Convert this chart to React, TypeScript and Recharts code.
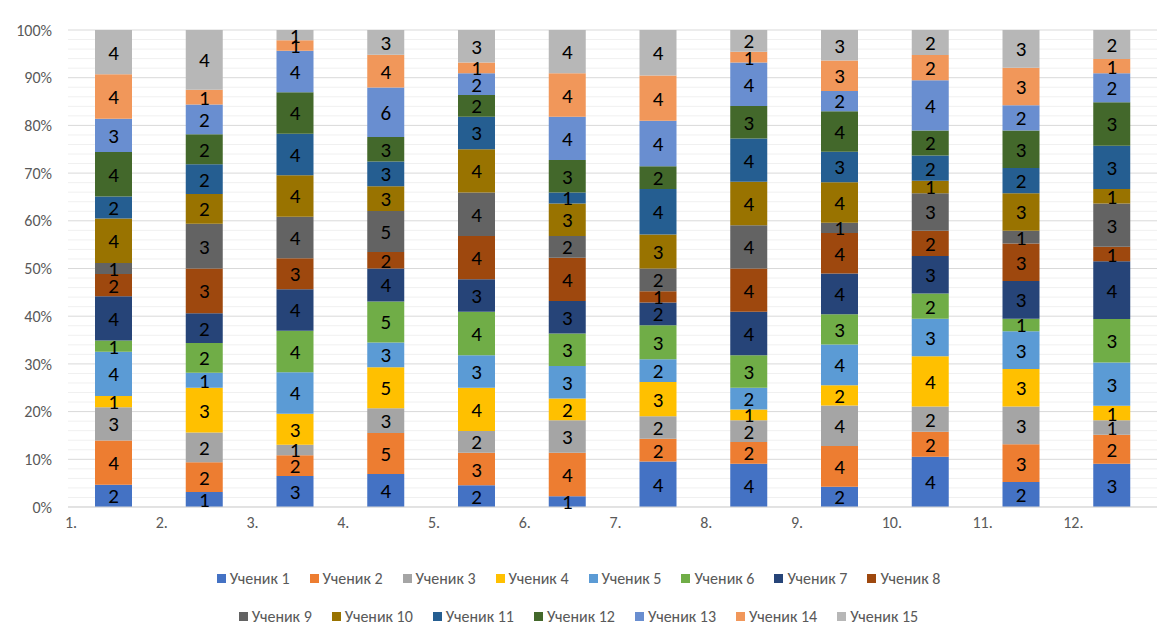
import React from 'react';
import { BarChart, Bar, XAxis, YAxis, CartesianGrid, LabelList } from 'recharts';

// Task numbers along the category axis
const categories = ['1.', '2.', '3.', '4.', '5.', '6.', '7.', '8.', '9.', '10.', '11.', '12.'];

// Scores of each student per task
const student1 = [2, 1, 3, 4, 2, 1, 4, 4, 2, 4, 2, 3];
const student2 = [4, 2, 2, 5, 3, 4, 2, 2, 4, 2, 3, 2];
const student3 = [3, 2, 1, 3, 2, 3, 2, 2, 4, 2, 3, 1];
const student4 = [1, 3, 3, 5, 4, 2, 3, 1, 2, 4, 3, 1];
const student5 = [4, 1, 4, 3, 3, 3, 2, 2, 4, 3, 3, 3];
const student6 = [1, 2, 4, 5, 4, 3, 3, 3, 3, 2, 1, 3];
const student7 = [4, 2, 4, 4, 3, 3, 2, 4, 4, 3, 3, 4];
const student8 = [2, 3, 3, 2, 4, 4, 1, 4, 4, 2, 3, 1];
const student9 = [1, 3, 4, 5, 4, 2, 2, 4, 1, 3, 1, 3];
const student10 = [4, 2, 4, 3, 4, 3, 3, 4, 4, 1, 3, 1];
const student11 = [2, 2, 4, 3, 3, 1, 4, 4, 3, 2, 2, 3];
const student12 = [4, 2, 4, 3, 2, 3, 2, 3, 4, 2, 3, 3];
const student13 = [3, 2, 4, 6, 2, 4, 4, 4, 2, 4, 2, 2];
const student14 = [4, 1, 1, 4, 1, 4, 4, 1, 3, 2, 3, 1];
const student15 = [4, 4, 1, 3, 3, 4, 4, 2, 3, 2, 3, 2];

const seriesNames = [
  'Ученик 1', 'Ученик 2', 'Ученик 3', 'Ученик 4', 'Ученик 5',
  'Ученик 6', 'Ученик 7', 'Ученик 8', 'Ученик 9', 'Ученик 10',
  'Ученик 11', 'Ученик 12', 'Ученик 13', 'Ученик 14', 'Ученик 15',
];
const seriesValues = [
  student1, student2, student3, student4, student5,
  student6, student7, student8, student9, student10,
  student11, student12, student13, student14, student15,
];
const seriesColors = [
  '#4472C4', '#ED7D31', '#A5A5A5', '#FFC000', '#5B9BD5',
  '#70AD47', '#264478', '#9E480E', '#636363', '#997300',
  '#255E91', '#43682B', '#698ED0', '#F1975A', '#B7B7B7',
];

const data = categories.map((name, i) => {
  const row: Record<string, string | number> = { name };
  seriesNames.forEach((s, k) => {
    row[`s${k}`] = seriesValues[k][i];
  });
  return row;
});

const WIDTH = 1157;
const CHART_H = 540;
const PLOT_LEFT = 68;
const BAND = (WIDTH - PLOT_LEFT) / categories.length;
const FONT = 'Calibri, Carlito, Lato, "Liberation Sans", Arial, sans-serif';

// minor grid fractions (every 2%, skipping the 10% majors)
const minorValues: number[] = [];
for (let i = 1; i < 50; i++) {
  if (i % 5 !== 0) minorValues.push(i / 50);
}

const CategoryTick = (props: any) => {
  const { x, y, payload } = props;
  return (
    <text
      x={x - BAND / 2 - 3}
      y={y + 13}
      textAnchor="start"
      fontSize={16}
      fontFamily={FONT}
      fill="#595959"
    >
      {payload.value}
    </text>
  );
};

const LegendBlock = () => {
  const rows = [seriesNames.slice(0, 8), seriesNames.slice(8)];
  let idx = 0;
  return (
    <div style={{ position: 'absolute', left: 0, top: 559, width: WIDTH, fontFamily: FONT, fontSize: 16, color: '#595959' }}>
      {rows.map((row, r) => (
        <div key={r} style={{ display: 'flex', justifyContent: 'center', height: 38, alignItems: 'center' }}>
          {row.map((n) => {
            const c = seriesColors[idx++];
            return (
              <div key={n} style={{ display: 'flex', alignItems: 'center', margin: '0 10px' }}>
                <span style={{ width: 9, height: 9, background: c, display: 'inline-block', marginRight: 4 }} />
                <span>{n}</span>
              </div>
            );
          })}
        </div>
      ))}
    </div>
  );
};

export default function App() {
  return (
    <div style={{ position: 'absolute', left: 0, top: 0, width: WIDTH, height: 624, background: '#fff', overflow: 'hidden' }}>
      <BarChart
        width={WIDTH}
        height={CHART_H}
        data={data}
        stackOffset="expand"
        barCategoryGap={27}
        margin={{ top: 30, right: 0, bottom: 0, left: 0 }}
      >
        <CartesianGrid
          vertical={false}
          stroke="#f0f0f0"
          horizontalCoordinatesGenerator={(p: any) => {
            const off = p?.offset;
            if (!off || typeof off.top !== 'number') return [];
            return minorValues.map((v) => off.top + off.height * (1 - v));
          }}
        />
        <CartesianGrid vertical={false} stroke="#d9d9d9" />
        <XAxis
          dataKey="name"
          height={33}
          tickLine={false}
          axisLine={{ stroke: '#d9d9d9' }}
          tick={<CategoryTick />}
          interval={0}
        />
        <YAxis
          width={PLOT_LEFT}
          domain={[0, 1]}
          ticks={[0, 0.1, 0.2, 0.3, 0.4, 0.5, 0.6, 0.7, 0.8, 0.9, 1]}
          tickFormatter={(v: number) => `${Math.round(v * 100)}%`}
          tickLine={false}
          axisLine={false}
          tickSize={0}
          tickMargin={16}
          tick={{ fontSize: 16, fontFamily: FONT, fill: '#595959' }}
        />
        {seriesNames.map((n, k) => (
          <Bar
            key={n}
            dataKey={`s${k}`}
            name={n}
            stackId="a"
            fill={seriesColors[k]}
            isAnimationActive={false}
          >
            <LabelList
              dataKey={`s${k}`}
              position="center"
              fill="#000"
              fontSize={21}
              fontFamily={FONT}
            />
          </Bar>
        ))}
      </BarChart>
      <LegendBlock />
    </div>
  );
}
